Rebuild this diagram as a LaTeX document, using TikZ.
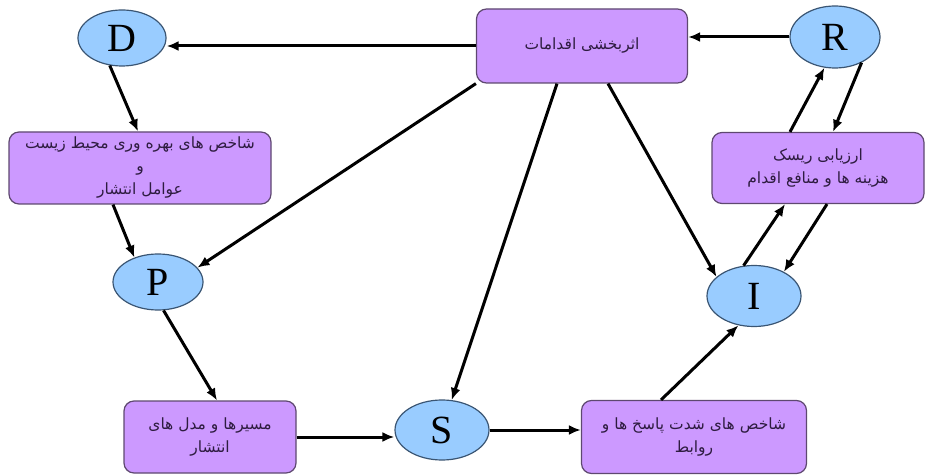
\documentclass[tikz,border=0pt]{standalone}
\usepackage{fontspec}
\setmainfont{Liberation Serif}
\newfontfamily\persianfont[Script=Arabic]{DejaVu Sans}
\TeXXeTstate=1
\usetikzlibrary{shapes.geometric,arrows.meta}
\definecolor{boxfill}{HTML}{CC99FF}
\definecolor{boxline}{HTML}{5E4870}
\definecolor{boxtext}{HTML}{2E1C40}
\definecolor{ovalfill}{HTML}{99CCFF}
\definecolor{ovalline}{HTML}{3A5573}
\tikzset{
  factor/.style={draw=boxline, fill=boxfill, rounded corners=10pt, line width=1.2pt,
    align=center, text=boxtext, inner sep=0pt,
    font=\persianfont\fontsize{15.5}{23}\selectfont},
  letter/.style={ellipse, draw=ovalline, fill=ovalfill, line width=1.2pt,
    inner sep=0pt, font=\fontsize{40}{42}\selectfont},
  arr/.style={-{Latex[length=12pt,width=10pt]}, line width=3pt}
}
\begin{document}
\begin{tikzpicture}[x=1pt,y=1pt]
  \useasboundingbox (0,0) rectangle (928,474);

  \node[letter, minimum width=88pt, minimum height=56pt] (D) at (122,436) {D};
  \node[letter, minimum width=90pt, minimum height=62pt] (R) at (835,437) {R};
  \node[letter, minimum width=90pt, minimum height=56pt] (P) at (158,192) {P};
  \node[letter, minimum width=94pt, minimum height=61pt] (I) at (754,178) {I};
  \node[letter, minimum width=94pt, minimum height=60pt] (S) at (442,44) {S};

  \node[factor, minimum width=211pt, minimum height=74pt] (act) at (582,428)
    {\beginR اثربخشی اقدامات\endR};
  \node[factor, minimum width=262pt, minimum height=72pt] (expo) at (140,306)
    {\beginR شاخص های بهره وری محیط زیست\endR\\ \beginR و\endR\\ \beginR عوامل انتشار\endR};
  \node[factor, minimum width=212pt, minimum height=71pt] (risk) at (818,306)
    {\beginR ارزیابی ریسک\endR\\ \beginR هزینه ها و منافع اقدام\endR};
  \node[factor, minimum width=172pt, minimum height=72pt] (path) at (210,37)
    {\beginR مسیرها و مدل های\endR\\ \beginR انتشار\endR};
  \node[factor, minimum width=225pt, minimum height=73pt] (resp) at (694,37)
    {\beginR شاخص های شدت پاسخ ها و\endR\\ \beginR روابط\endR};

  \draw[arr] (act.west) -- (D.east |- act.west);
  \draw[arr] (R.west) -- (R.west -| act.east);
  \draw[arr] (D.246) -- ([xshift=-2pt]expo.north);
  \draw[arr] ([xshift=-27pt]expo.south) -- (P.134);
  \draw[arr] (act.south west) -- (P.20);
  \draw[arr] ([xshift=-25pt]act.south) -- (S.72);
  \draw[arr] ([xshift=26pt]act.south) -- (I.153);
  \draw[arr] (R.316) -- ([xshift=15pt]risk.north);
  \draw[arr] ([xshift=-28pt]risk.north) -- (R.251);
  \draw[arr] (I.109) -- ([xshift=-33pt]risk.south);
  \draw[arr] ([xshift=9pt]risk.south) -- (I.39);
  \draw[arr] (P.281) -- ([xshift=7pt]path.north);
  \draw[arr] (path.east) -- (path.east -| S.west);
  \draw[arr] (S.east) -- (S.east -| resp.west);
  \draw[arr] ([xshift=-33pt]resp.north) -- (I.242);
\end{tikzpicture}
\end{document}
